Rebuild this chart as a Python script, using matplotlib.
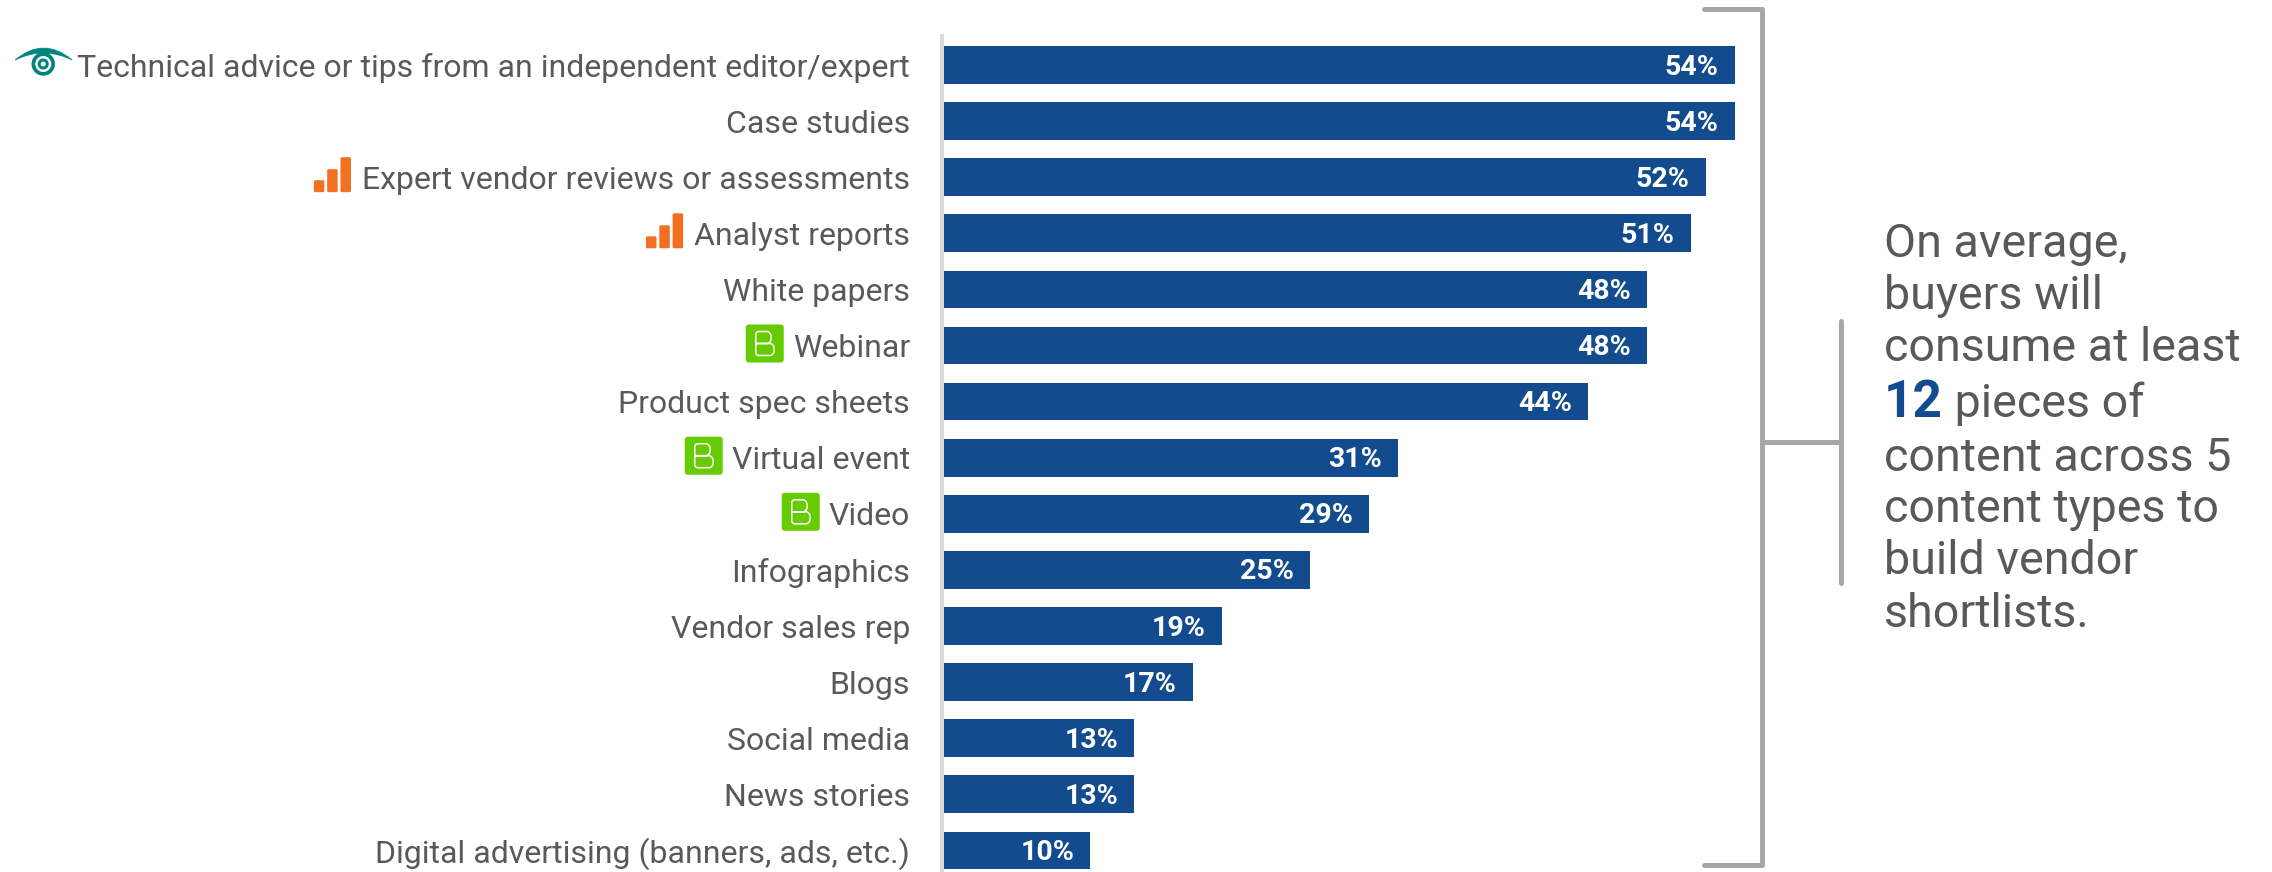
import matplotlib
matplotlib.use('Agg')
import matplotlib.pyplot as plt
from matplotlib.patches import FancyBboxPatch, PathPatch, Wedge
from matplotlib.path import Path

plt.rcParams['font.family'] = ['Roboto', 'DejaVu Sans']

categories = [
    'Technical advice or tips from an independent editor/expert',
    'Case studies',
    'Expert vendor reviews or assessments',
    'Analyst reports',
    'White papers',
    'Webinar',
    'Product spec sheets',
    'Virtual event',
    'Video',
    'Infographics',
    'Vendor sales rep',
    'Blogs',
    'Social media',
    'News stories',
    'Digital advertising (banners, ads, etc.)',
]
values = [54, 54, 52, 51, 48, 48, 44, 31, 29, 25, 19, 17, 13, 13, 10]
eye_rows = [0]
chart_rows = [2, 3]
badge_rows = [5, 7, 8]

note_lines = ['On average,', 'buyers will', 'consume at least', None,
              'content across 5', 'content types to', 'build vendor', 'shortlists.']
note_number = '12'
note_number_rest = ' pieces of'

W, H = 2272, 872
BLUE = '#134c8e'
GREY = '#595959'
BRACKET = '#a6a6a6'
GREEN = '#66cc00'
ORANGE = '#f36f21'
TEAL = '#00857c'

fig = plt.figure(figsize=(W / 100, H / 100), dpi=100)

# bar panel, 14.65 px per percent and 56.1 px per row
ax = fig.add_axes([943.7 / W, 0, 60 * 14.65 / W, (H - 36) / H])
# axis line sits just left of the bars; moving a spine resets the ticks, so do it first
ax.spines['left'].set_position(('outward', 2 * 0.72))
ax.spines['left'].set_color('#d9d9d9')
ax.spines['left'].set_linewidth(4 * 0.72)
for s in ['top', 'right', 'bottom']:
    ax.spines[s].set_visible(False)

rows = list(range(len(categories)))
ax.barh(rows, values, height=37.7 / 56.1, color=BLUE)
ax.set_xlim(0, 60)
ax.set_ylim(14.385, -0.517)
ax.set_yticks(rows)
ax.set_yticklabels(categories, fontsize=23, color=GREY, va='center_baseline')
ax.tick_params(axis='y', length=0, pad=31.7 * 0.72)
ax.xaxis.set_visible(False)
ax.patch.set_visible(False)

for r, v in zip(rows, values):
    ax.annotate(f'{v}%', (v, r), xytext=(-16 * 0.72, 0.7), textcoords='offset points',
                ha='right', va='center_baseline', color='white',
                fontsize=20.5, fontweight='bold')

# pixel overlay for the bracket, note and label icons
ov = fig.add_axes([0, 0, 1, 1])
ov.set_xlim(0, W)
ov.set_ylim(H, 0)
ov.axis('off')
ov.patch.set_visible(False)

lw = 5 * 0.72
ov.plot([1704, 1762, 1762, 1704], [9, 9, 865, 865], color=BRACKET, lw=lw,
        solid_capstyle='round', solid_joinstyle='round')
ov.plot([1762, 1840], [442, 442], color=BRACKET, lw=lw, solid_capstyle='butt')
ov.plot([1840.5, 1840.5], [321, 583], color=BRACKET, lw=lw, solid_capstyle='round')

baselines = [257, 309, 361, 417, 471, 522, 574, 627]
for line, y in zip(note_lines, baselines):
    if line is not None:
        ov.text(1884, y, line, fontsize=33.6, color=GREY, ha='left', va='baseline')
num = ov.text(1884, baselines[3], note_number, fontsize=37, fontweight='bold',
              color=BLUE, ha='left', va='baseline')

fig.canvas.draw()
renderer = fig.canvas.get_renderer()
num_box = num.get_window_extent(renderer)
ov.text(num_box.x1, baselines[3], note_number_rest, fontsize=33.6, color=GREY,
        ha='left', va='baseline')


def row_y(r):
    return 65 + 56.1 * r


def draw_eye(right, cy):
    left = right - 57
    cx = left + 28
    crescent = Path(
        [(left, cy - 5), (cx, cy - 29), (right, cy - 5),
         (cx, cy - 19), (left, cy - 5)],
        [Path.MOVETO, Path.CURVE3, Path.CURVE3, Path.CURVE3, Path.CURVE3],
    )
    ov.add_patch(PathPatch(crescent, fc=TEAL, ec=TEAL, lw=0.5))
    ov.add_patch(Wedge((cx, cy - 1), 11.7, 0, 360, width=3.7, fc=TEAL, ec='none'))
    ov.add_patch(Wedge((cx, cy - 1), 5.5, 0, 360, width=3, fc=TEAL, ec='none'))


def draw_chart_icon(right, cy):
    left = right - 37
    base = cy + 15
    for i, h in enumerate([12, 23, 35]):
        x = left + i * 13.3
        ov.add_patch(FancyBboxPatch((x + 1.5, base - h + 1.5), 7.5, h - 3,
                                    boxstyle='round,pad=1.5', fc=ORANGE, ec='none'))


def draw_badge(right, cy):
    size = 38
    ov.add_patch(FancyBboxPatch((right - size + 3, cy - size / 2 + 1), size - 6, size - 6,
                                boxstyle='round,pad=3', fc=GREEN, ec='none'))
    # single-stroke B inside the badge
    x0 = right - size + 10
    y0 = cy - 14
    b = Path(
        [(x0 + 3, y0), (x0 + 11, y0), (x0 + 17, y0), (x0 + 17, y0 + 12), (x0 + 11, y0 + 12),
         (x0, y0 + 12), (x0 + 14, y0 + 12), (x0 + 20, y0 + 12), (x0 + 20, y0 + 24), (x0 + 14, y0 + 24),
         (x0 + 3, y0 + 24), (x0, y0 + 24), (x0, y0 + 21), (x0, y0 + 3), (x0, y0), (x0 + 3, y0)],
        [Path.MOVETO, Path.LINETO, Path.CURVE4, Path.CURVE4, Path.CURVE4,
         Path.LINETO, Path.LINETO, Path.CURVE4, Path.CURVE4, Path.CURVE4,
         Path.LINETO, Path.CURVE3, Path.CURVE3, Path.LINETO, Path.CURVE3, Path.CURVE3],
    )
    ov.add_patch(PathPatch(b, fc='none', ec='white', lw=1.1))


labels = ax.get_yticklabels()
for r in rows:
    x0 = labels[r].get_window_extent(renderer).x0
    if r in eye_rows:
        draw_eye(x0 - 5, row_y(r))
    elif r in chart_rows:
        draw_chart_icon(x0 - 11, row_y(r))
    elif r in badge_rows:
        draw_badge(x0 - 9, row_y(r))

fig.savefig('out.png', dpi=100)
